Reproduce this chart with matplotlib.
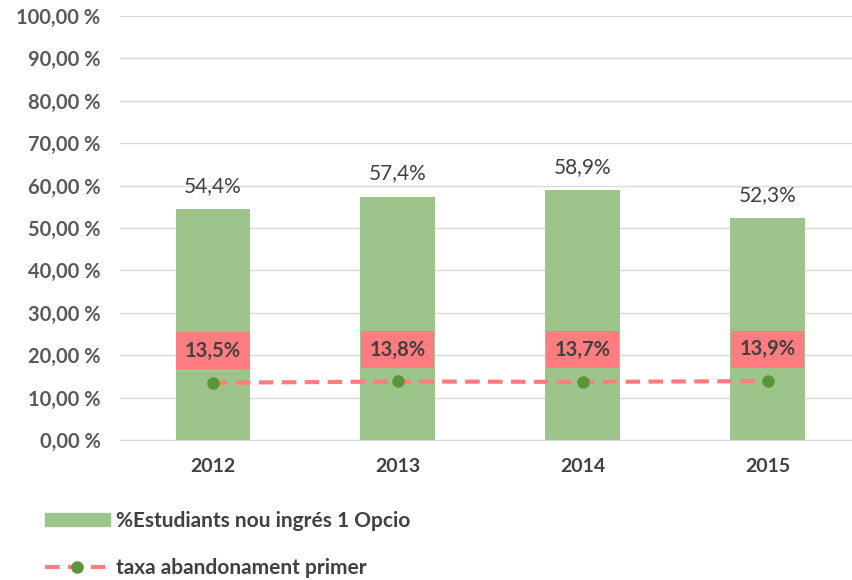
import matplotlib.pyplot as plt
from matplotlib.lines import Line2D
from matplotlib.patches import Patch

# dades
anys = ["2012", "2013", "2014", "2015"]
estudiants = [54.4, 57.4, 58.9, 52.3]
abandonament = [13.5, 13.8, 13.7, 13.9]
etiq_estudiants = ["54,4%", "57,4%", "58,9%", "52,3%"]
etiq_abandonament = ["13,5%", "13,8%", "13,7%", "13,9%"]
yticks = [0, 10, 20, 30, 40, 50, 60, 70, 80, 90, 100]

verd = "#9DC48B"
rosa = "#FF7C80"
punt = "#5A9638"
gris = "#595959"

plt.rcParams['font.family'] = ['Lato', 'DejaVu Sans']

fig = plt.figure(figsize=(8.53, 5.80), dpi=100)
ax = fig.add_axes([0.1407, 0.2414, 0.859, 0.731])

x = range(len(anys))
ax.bar(x, estudiants, width=0.405, color=verd, zorder=2)

# etiquetes de les barres
for i, v in enumerate(estudiants):
    ax.annotate(etiq_estudiants[i], (i, v), xytext=(0, 17), textcoords="offset points",
                ha="center", va="center", fontsize=15, color="#404040")

# linia d'abandonament
ax.plot(x, abandonament, color=rosa, linestyle=(0, (3.5, 2)), linewidth=3, zorder=3)
ax.plot(x, abandonament, linestyle="none", marker="o", markersize=8,
        color=punt, zorder=4)

for i, v in enumerate(abandonament):
    ax.annotate(etiq_abandonament[i], (i, v), xytext=(0, 23), textcoords="offset points",
                ha="center", va="center", fontsize=14.5, fontweight="bold", color="#404040",
                bbox=dict(boxstyle="square,pad=0.42", fc=rosa, ec="none"), zorder=5)

ax.set_xlim(-0.503, 3.46)
ax.set_ylim(0, 100)
ax.set_xticks(list(x))
ax.set_xticklabels(anys, fontsize=14, fontweight="bold", color="#404040")
ax.set_yticks(yticks)
ax.set_yticklabels([f"{t},00 %" for t in yticks], fontsize=14.5, fontweight="bold", color=gris)
ax.tick_params(axis="y", length=0, pad=14)
ax.tick_params(axis="x", length=0, pad=13)
ax.grid(axis="y", color="#D9D9D9", linewidth=1, zorder=0)
ax.set_axisbelow(True)
for s in ["top", "right", "left"]:
    ax.spines[s].set_visible(False)
ax.spines["bottom"].set_color("#D9D9D9")

# llegenda
handles = [
    Patch(color=verd, label="%Estudiants nou ingrés 1 Opcio"),
    Line2D([0], [0], color=rosa, linestyle=(0, (3.5, 2)), linewidth=3,
           marker="o", markersize=8, markerfacecolor=punt, markeredgecolor=punt,
           label="taxa abandonament primer"),
]
leg = fig.legend(handles=handles, loc="upper left", bbox_to_anchor=(0.031, 0.152),
                 frameon=False, handlelength=3.1, handleheight=0.6, labelspacing=1.3,
                 fontsize=15, handletextpad=0.3)
for t in leg.get_texts():
    t.set_fontweight("bold")
    t.set_color("#404040")

fig.savefig("out.png", dpi=100)
